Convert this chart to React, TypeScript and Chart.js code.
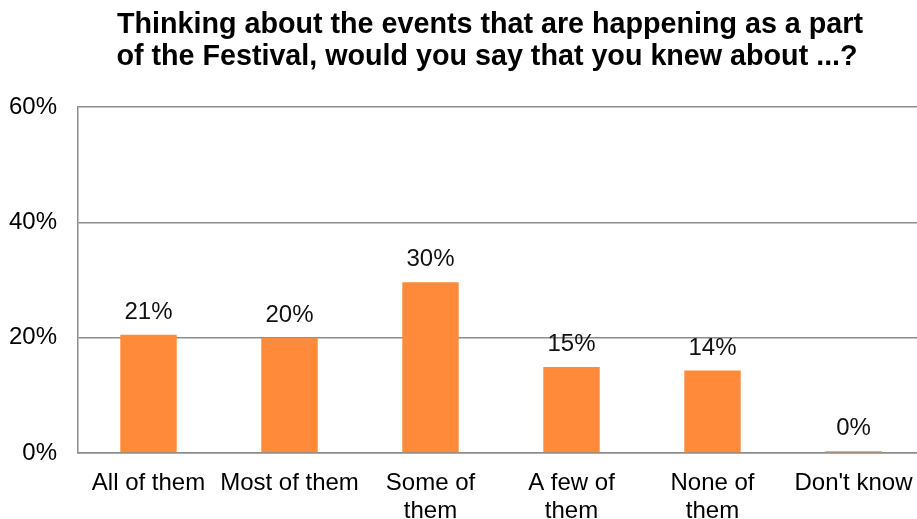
import React, { useEffect, useRef } from "react";
import { Chart, registerables } from "chart.js";

Chart.register(...registerables);

const titleLines = [
  "Thinking about the events that are happening as a part",
  "of the Festival, would you say that you knew about ...?",
];
const categories: (string | string[])[] = [
  "All of them",
  "Most of them",
  ["Some of", "them"],
  ["A few of", "them"],
  ["None of", "them"],
  "Don't know",
];
const values = [20.5, 20.0, 29.6, 14.9, 14.3, 0.3];
const yTicks = [0, 20, 40, 60];

const FONT = "'Liberation Sans', Arial, Helvetica, sans-serif";
const BAR_COLOR = "#FF8A3A";
const GRID_COLOR = "#8C8C8C";

export default function App() {
  const ref = useRef<HTMLCanvasElement | null>(null);

  useEffect(() => {
    if (!ref.current) return;
    const titlePlugin = {
      id: "customTitle",
      afterDraw(chart: any) {
        const ctx = chart.ctx;
        ctx.save();
        ctx.font = `bold 28.7px ${FONT}`;
        ctx.fillStyle = "#000";
        ctx.textAlign = "center";
        ctx.textBaseline = "alphabetic";
        ctx.fillText(titleLines[0], 490, 33);
        ctx.fillText(titleLines[1], 487, 65);
        ctx.restore();
      },
    };
    const labelPlugin = {
      id: "valueLabels",
      afterDatasetsDraw(chart: any) {
        const ctx = chart.ctx;
        const meta = chart.getDatasetMeta(0);
        ctx.save();
        ctx.font = `24px ${FONT}`;
        ctx.fillStyle = "#111";
        ctx.textAlign = "center";
        ctx.textBaseline = "alphabetic";
        meta.data.forEach((el: any, i: number) => {
          ctx.fillText(Math.round(values[i]) + "%", el.x, el.y - 16);
        });
        ctx.restore();
      },
    };
    const chart = new Chart(ref.current, {
      type: "bar",
      data: {
        labels: categories,
        datasets: [
          {
            data: values,
            backgroundColor: BAR_COLOR,
            borderWidth: 0,
            barPercentage: 0.4,
            categoryPercentage: 1,
          },
        ],
      },
      options: {
        responsive: false,
        animation: false,
        devicePixelRatio: 1,
        layout: { padding: { top: 107, right: 16, left: 0, bottom: 0 } },
        plugins: {
          legend: { display: false },
          title: { display: false },
          tooltip: { enabled: false },
        },
        scales: {
          x: {
            grid: { display: false, drawTicks: false },
            border: { display: true, color: GRID_COLOR, width: 1.5 },
            ticks: {
              color: "#000",
              font: { family: FONT, size: 24, lineHeight: 1.17 },
              padding: 16,
              maxRotation: 0,
              autoSkip: false,
            },
            afterFit: (scale: any) => {
              scale.height = 66;
            },
          },
          y: {
            min: 0,
            max: 60,
            afterBuildTicks: (scale: any) => {
              scale.ticks = yTicks.map((v) => ({ value: v }));
            },
            grid: { color: GRID_COLOR, lineWidth: 1.5, drawTicks: false },
            border: { display: true, color: GRID_COLOR, width: 1.5 },
            ticks: {
              color: "#000",
              font: { family: FONT, size: 24 },
              padding: 21,
              callback: (v: any) => v + "%",
            },
            afterFit: (scale: any) => {
              scale.width = 78;
            },
          },
        },
      },
      plugins: [titlePlugin, labelPlugin],
    });
    return () => chart.destroy();
  }, []);

  return (
    <div
      style={{
        position: "fixed",
        left: 0,
        top: 0,
        width: 917,
        height: 519,
        overflow: "hidden",
        background: "#fff",
      }}
    >
      <canvas ref={ref} width={940} height={519} style={{ display: "block" }} />
    </div>
  );
}
